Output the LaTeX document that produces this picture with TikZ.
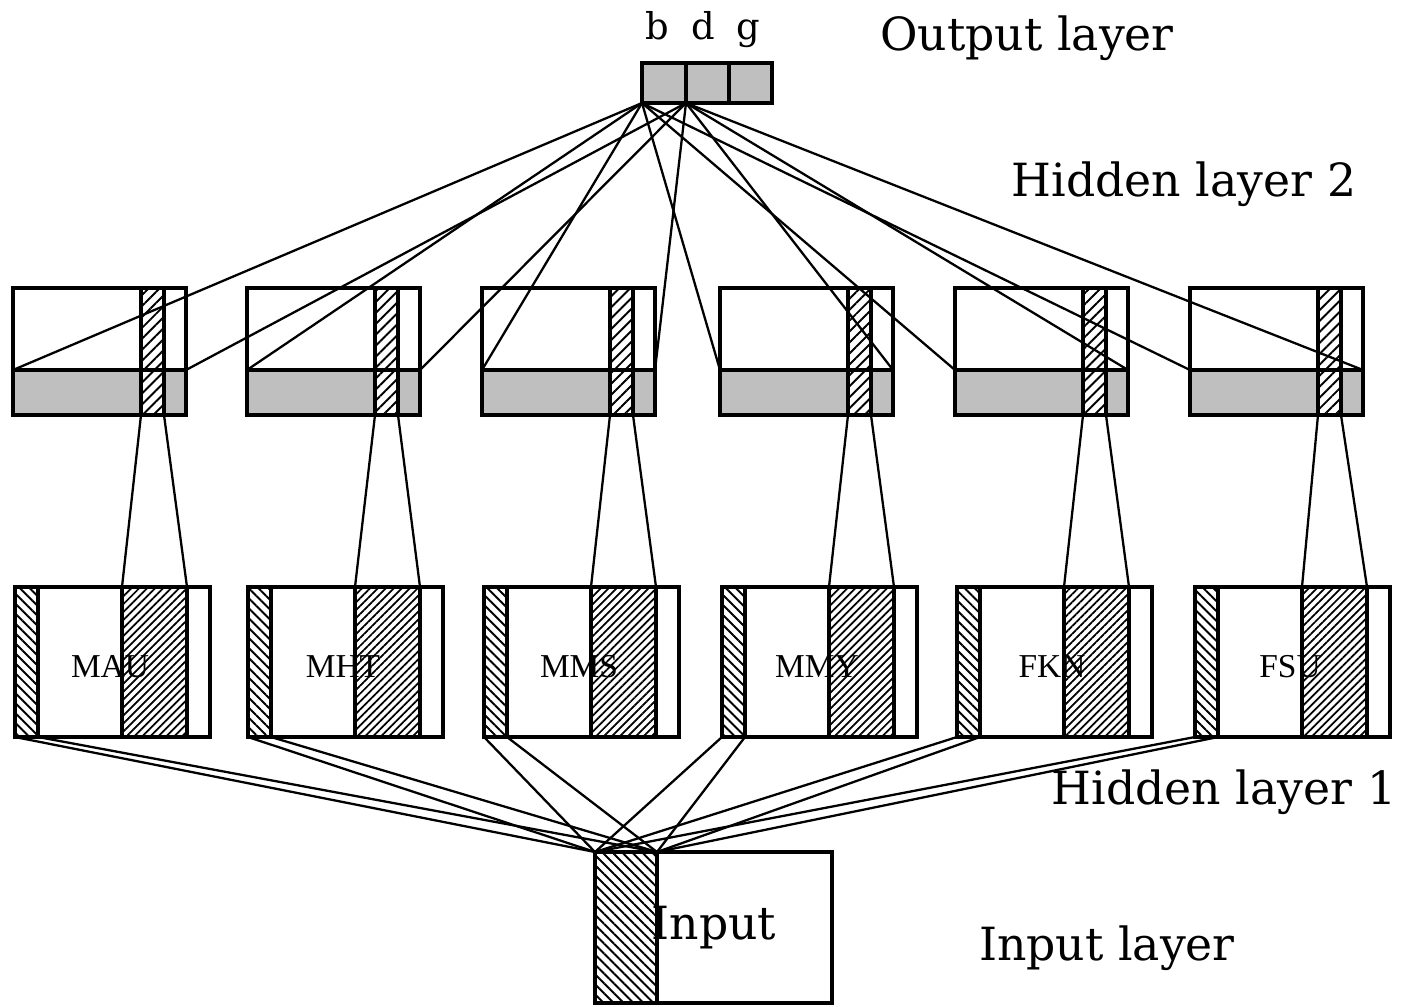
\documentclass[tikz,border=0pt]{standalone}
\usepackage{fontspec}
\setmainfont{DejaVu Serif}
\newfontfamily\unitfont{Liberation Serif}
\usetikzlibrary{patterns.meta}

\begin{document}
\begin{tikzpicture}[x=0.01cm,y=-0.01cm,
  box/.style={line width=1.3pt},
  wire/.style={line width=0.65pt},
  graycell/.style={fill=gray!50},
  fwdhatch/.style={pattern={Lines[angle=45,distance=2.2pt,line width=0.55pt]}},
  finehatch/.style={pattern={Lines[angle=45,distance=1.6pt,line width=0.5pt]}},
  backhatch/.style={pattern={Lines[angle=-45,distance=2pt,line width=0.55pt]}},
  layername/.style={font=\fontsize{13}{15}\selectfont},
  unitname/.style={font=\unitfont\fontsize{9.5}{11}\selectfont}]
\useasboundingbox (0,0) rectangle (1406,1006);

% output layer
\filldraw[graycell,box] (642,63) rectangle (686,103);
\filldraw[graycell,box] (686,63) rectangle (729,103);
\filldraw[graycell,box] (729,63) rectangle (772,103);
\node[font=\fontsize{10.5}{12}\selectfont,anchor=base] (lb) at (657,39) {b};
\node[font=\fontsize{10.5}{12}\selectfont,anchor=base] (ld) at (703,39) {d};
\node[font=\fontsize{10.5}{12}\selectfont,anchor=base] (lg) at (748,39) {g};
\coordinate (ob) at (642,103);
\coordinate (od) at (686,103);

% hidden layer 2
\foreach \x [count=\i] in {13,247,482,720,955,1190}{
  \fill[graycell] (\x,370) rectangle (\x+173,415);
  \fill[white] (\x+128,288) rectangle (\x+151,415);
  \fill[fwdhatch] (\x+128,288) rectangle (\x+151,415);
  \draw[box] (\x,288) rectangle (\x+173,415);
  \draw[box] (\x,370) -- (\x+173,370);
  \draw[box] (\x+128,288) -- (\x+128,415) (\x+151,288) -- (\x+151,415);
  \coordinate (hl\i) at (\x,370);
  \coordinate (hr\i) at (\x+173,370);
  \coordinate (ha\i) at (\x+128,415);
  \coordinate (hb\i) at (\x+151,415);
}

% hidden layer 1
\foreach \x/\name [count=\i] in {15/MAU,248/MHT,484/MMS,722/MMY,957/FKN,1195/FSU}{
  \fill[backhatch] (\x,587) rectangle (\x+23,737);
  \fill[finehatch] (\x+107,587) rectangle (\x+172,737);
  \draw[box] (\x,587) rectangle (\x+195,737);
  \draw[box] (\x+23,587) -- (\x+23,737);
  \draw[box] (\x+107,587) -- (\x+107,737) (\x+172,587) -- (\x+172,737);
  \node[unitname] (u\i) at (\x+95,667) {\name};
  \coordinate (ga\i) at (\x+107,587);
  \coordinate (gb\i) at (\x+172,587);
  \coordinate (gl\i) at (\x,737);
  \coordinate (gr\i) at (\x+23,737);
}

% input layer
\fill[backhatch] (595,852) rectangle (657,1003);
\draw[box] (595,852) rectangle (832,1003);
\draw[box] (657,852) -- (657,1003);
\node[layername] (inp) at (714,928) {Input};
\coordinate (il) at (595,852);
\coordinate (ir) at (657,852);

% connections
\foreach \i in {1,...,6}{
  \draw[wire] (ob) -- (hl\i);
  \draw[wire] (od) -- (hr\i);
  \draw[wire] (ha\i) -- (ga\i);
  \draw[wire] (hb\i) -- (gb\i);
  \draw[wire] (gl\i) -- (il);
  \draw[wire] (gr\i) -- (ir);
}

\node[layername] (tout) at (1027,38) {Output layer};
\node[layername] (th2) at (1184,184) {Hidden layer 2};
\node[layername] (th1) at (1224,792) {Hidden layer 1};
\node[layername] (tin) at (1107,948) {Input layer};

\end{tikzpicture}
\end{document}
